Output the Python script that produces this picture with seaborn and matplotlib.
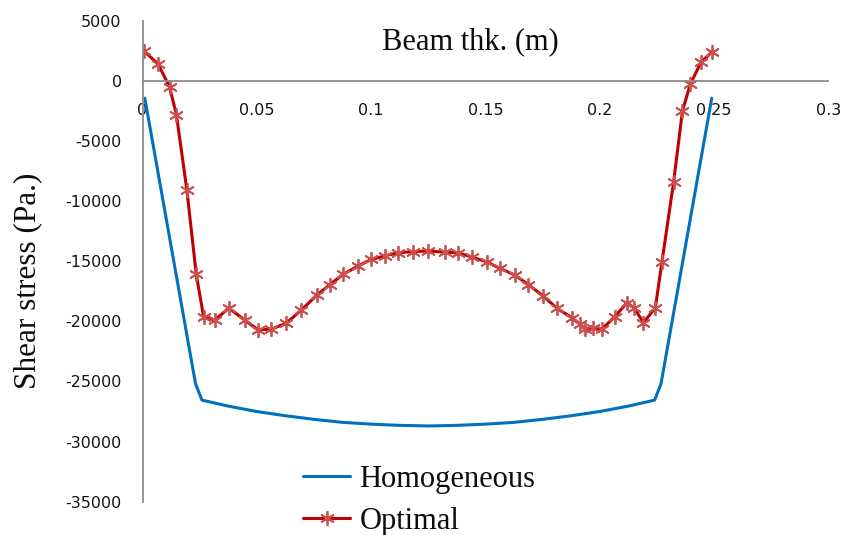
import matplotlib
matplotlib.use("Agg")
import matplotlib.pyplot as plt
import seaborn as sns
import pandas as pd
import numpy as np

# ---- data ----
homog_x = [0.001, 0.0215, 0.0232, 0.026, 0.0375, 0.05, 0.0625, 0.075, 0.0875, 0.1, 0.1125,
           0.125, 0.1375, 0.15, 0.1625, 0.175, 0.1875, 0.2, 0.2125, 0.224, 0.2268, 0.2285, 0.249]
homog_y = [-1450, -23400, -25200, -26550, -27050, -27500, -27850, -28150, -28400, -28550, -28650,
           -28700, -28650, -28550, -28400, -28150, -27850, -27500, -27050, -26550, -25200, -23400, -1450]

opt_x = [0.0005, 0.0068, 0.0118, 0.0148, 0.0194, 0.0235, 0.0267, 0.0315, 0.0378, 0.0447,
         0.0505, 0.0564, 0.0629, 0.0695, 0.0761, 0.0819, 0.0877, 0.0943, 0.1001, 0.106,
         0.1118, 0.1184, 0.125, 0.1323, 0.1381, 0.144, 0.1505, 0.1564, 0.1629, 0.1688,
         0.1753, 0.1812, 0.1878, 0.1914, 0.1936, 0.1972, 0.2009, 0.2067, 0.2119, 0.2151,
         0.2191, 0.2243, 0.2272, 0.2323, 0.2362, 0.2396, 0.2443, 0.2491]
opt_y = [2500, 1400, -500, -2800, -9100, -16100, -19600, -19900, -18900, -19900,
         -20700, -20650, -20150, -19050, -17850, -16950, -16100, -15400, -14850, -14550,
         -14300, -14200, -14150, -14250, -14300, -14650, -15050, -15600, -16150, -16950,
         -17900, -18900, -19700, -20250, -20650, -20550, -20650, -19600, -18450, -18900,
         -20100, -18900, -15100, -8450, -2500, -300, 1550, 2400]

x_ticks = [0, 0.05, 0.1, 0.15, 0.2, 0.25, 0.3]
x_tick_labels = ["0", "0.05", "0.1", "0.15", "0.2", "0.25", "0.3"]
y_ticks = [-35000, -30000, -25000, -20000, -15000, -10000, -5000, 0, 5000]

series_names = ["Homogeneous", "Optimal"]

# ---- plot ----
sns.set_style("white")
plt.rcParams["font.family"] = ["DejaVu Sans"]
plt.rcParams["axes.unicode_minus"] = False

fig = plt.figure(figsize=(8.44, 5.35), dpi=100)
ax = fig.add_axes([0.1689, 0.0622, 0.9814 - 0.1689, 0.9613 - 0.0622])

df_h = pd.DataFrame({"x": homog_x, "y": homog_y})
df_o = pd.DataFrame({"x": opt_x, "y": opt_y})

sns.lineplot(data=df_h, x="x", y="y", ax=ax, color="#0070C0", linewidth=2.2,
             sort=False, estimator=None, label=series_names[0])
sns.lineplot(data=df_o, x="x", y="y", ax=ax, color="#C00000", linewidth=2.2,
             sort=False, estimator=None, label=series_names[1],
             marker=(6, 2, 0), markersize=10.5, markeredgecolor="#C9504F",
             markerfacecolor="#C9504F", markeredgewidth=1.3)

ax.set_xlim(0, 0.3)
ax.set_ylim(-35000, 5000)
ax.set_xticks(x_ticks)
ax.set_xticklabels(x_tick_labels)
ax.set_yticks(y_ticks)
ax.set_yticklabels([str(v) for v in y_ticks])

ax.spines["top"].set_visible(False)
ax.spines["right"].set_visible(False)
ax.spines["bottom"].set_position(("data", 0))
for s in ("left", "bottom"):
    ax.spines[s].set_color("#8C8C8C")
    ax.spines[s].set_linewidth(1.3)

ax.tick_params(axis="x", direction="out", length=5.5, width=1.3, color="#8C8C8C",
               pad=10.5, labelsize=11.5, labelcolor="#141414")
ax.tick_params(axis="y", direction="out", length=5.5, width=1.3, color="#8C8C8C",
               pad=9.5, labelsize=11.5, labelcolor="#141414")
ax.set_xlabel("")
ax.set_ylabel("")
ax.grid(False)

serif = ["Liberation Serif", "DejaVu Serif"]
fig.text(470 / 844, 1 - 42 / 535, "Beam thk. (m)", family=serif, fontsize=22,
         ha="center", va="center", color="#0d0d0d")
fig.text(28 / 844, 1 - 281 / 535, "Shear stress (Pa.)", family=serif, fontsize=22.5,
         ha="center", va="center", rotation=90, color="#0d0d0d")

leg = ax.legend(loc="upper left", bbox_to_anchor=(303 / 844, 1 - 465 / 535),
                bbox_transform=fig.transFigure, frameon=False, borderpad=0,
                borderaxespad=0, handlelength=1.55, handletextpad=0.3,
                labelspacing=0.42, prop={"family": serif, "size": 22})
for t in leg.get_texts():
    t.set_color("#0d0d0d")

fig.savefig("out.png", dpi=100)
